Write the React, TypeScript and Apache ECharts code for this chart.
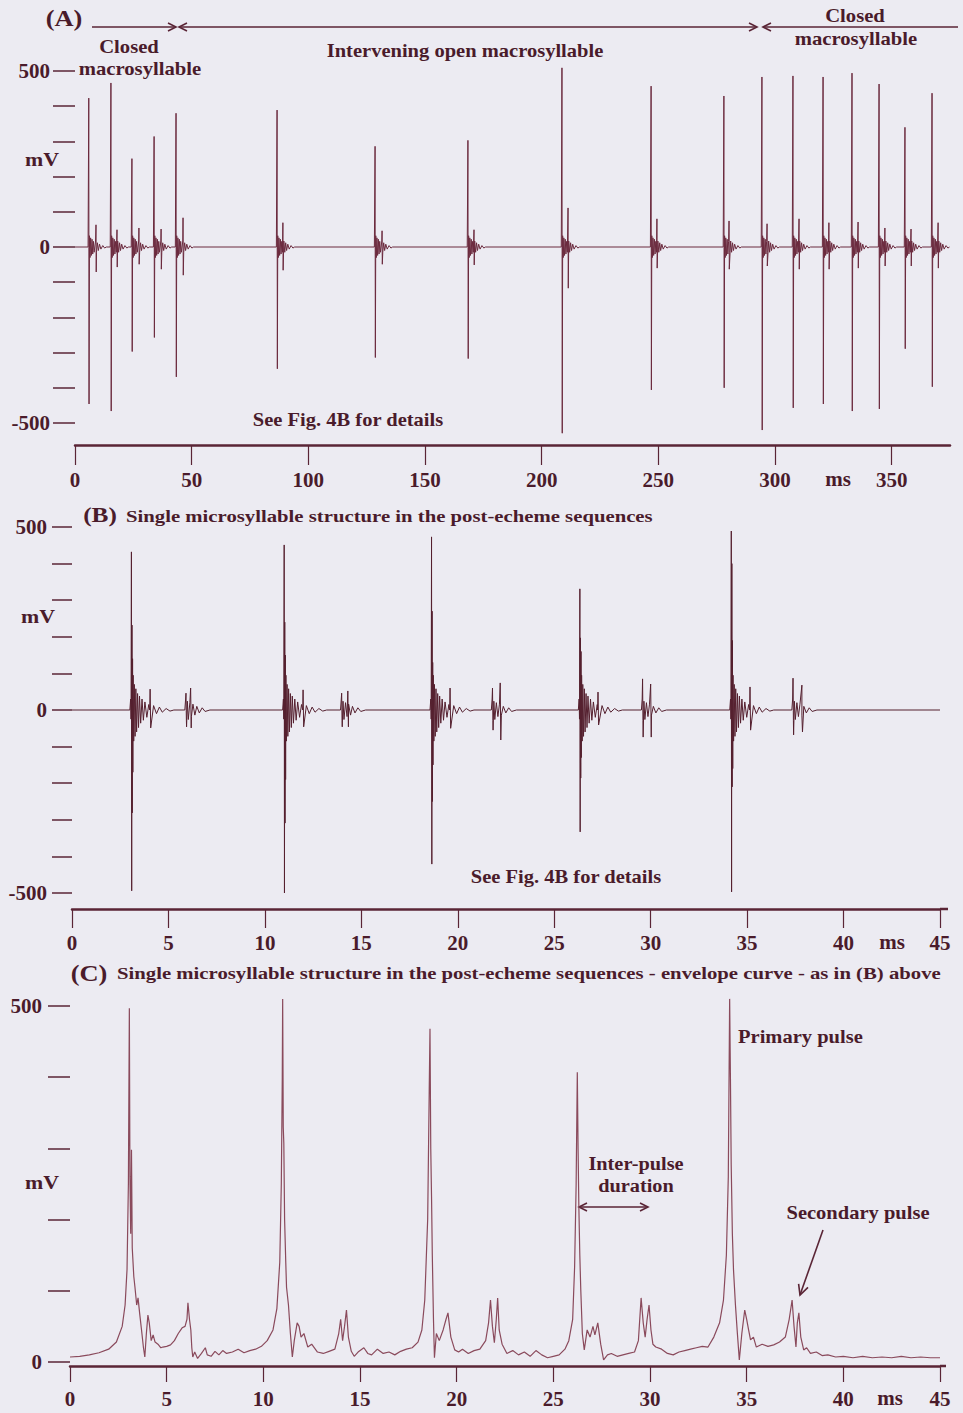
import React, { useEffect, useRef } from "react";
import * as echarts from "echarts";

// ---------- Panel A: primary / secondary pulses (ms, mV) ----------
const aPrimaryT = [5.9, 15.4, 24.4, 33.9, 43.3, 86.6, 128.6, 168.4, 208.7, 246.9, 278.1, 294.4, 307.7, 320.6, 333.0, 344.6, 355.7, 367.3];
const aPrimaryUp = [423, 466, 251, 314, 380, 389, 286, 303, 509, 457, 429, 483, 486, 483, 494, 463, 340, 437];
const aPrimaryDown = [446, 466, 297, 257, 369, 346, 314, 317, 529, 406, 400, 520, 457, 446, 466, 460, 289, 397];
const aSecondaryT = [9.0, 18.0, 27.4, 36.9, 46.3, 89.1, 131.6, 171.0, 211.3, 249.4, 280.3, 296.6, 310.3, 323.1, 335.6, 347.1, 358.3, 369.9];
const aSecondaryUp = [63, 49, 54, 51, 83, 69, 46, 49, 111, 80, 74, 66, 80, 69, 71, 54, 51, 69];
const aSecondaryDown = [71, 57, 49, 63, 80, 66, 49, 51, 117, 60, 63, 54, 63, 63, 60, 54, 54, 60];
const aRingOffsets = [0.3, 0.55, 0.8, 1.1, 1.4, 1.7, 2.0, 2.3, 2.9, 3.3, 3.7, 4.1, 4.6, 5.2, 6.0, 6.8];
const aRingValues = [32, -30, 26, -24, 22, -20, 16, -15, 17, -15, 12, -10, 8, -6, 4, -3];
const aTicks = [0, 50, 100, 150, 200, 250, 300, 350];

// ---------- Panel B ----------
const bPrimaryT = [3.08, 11.0, 18.64, 26.33, 34.18];
const bPrimaryUp = [432, 451, 473, 331, 489];
const bPrimaryDown = [494, 500, 421, 333, 497];
const bInnerUp = [232, 240, 270, 197, 400];
const bInnerDown = [281, 309, 250, 186, 210];
const bInner2Up = [140, 150, 130, 160, 190];
const bInner2Down = [170, 190, 150, 130, 160];
const bEchoT = [4.05, 11.98, 19.6, 27.27, 35.15];
const bEchoUp = [57, 55, 60, 49, 63];
const bEchoDown = [49, 46, 50, 41, 55];
const bSecondaryT = [5.91, 6.15, 13.98, 14.3, 21.8, 22.2, 29.58, 30.0, 37.38, 37.84];
const bSecondaryUp = [46, 60, 46, 52, 60, 74, 85, 71, 87, 68];
const bSecondaryDown = [46, 49, 46, 46, 55, 82, 74, 74, 68, 60];
const bBurstStartT = [5.85, 13.92, 21.74, 29.52, 37.32];
const bRingOffsets = [0.09, 0.12, 0.15, 0.19, 0.23, 0.27, 0.32, 0.37, 0.42, 0.48, 0.55, 0.62, 0.7, 0.8, 0.9, 1.15, 1.3, 1.45, 1.6, 1.8, 2.0];
const bRingValues = [95, -85, 70, -72, 58, -60, 45, -48, 38, -36, 30, -28, 22, -20, 15, 12, -10, 8, -6, 4, -3];
const sRingOffsets = [0.04, 0.08, 0.13, 0.18, 0.26, 0.34, 0.42, 0.52, 0.62, 0.75, 0.9, 1.05];
const sRingValues = [30, -28, 24, -26, 20, -18, 16, -14, 10, -8, 6, -4];
const msTicks = [0, 5, 10, 15, 20, 25, 30, 35, 40, 45];

// ---------- Panel C: envelope curve [ms, mV] ----------
const envelopeC: [number, number][] = [
  [0, 7], [0.5, 8], [1.0, 10], [1.5, 13], [2.0, 18], [2.4, 28], [2.7, 50], [2.85, 80], [2.95, 130], [3.02, 250], [3.07, 497],
  [3.1, 260], [3.14, 180], [3.18, 298], [3.22, 160], [3.3, 120], [3.36, 105], [3.45, 80], [3.52, 90], [3.6, 69], [3.7, 45],
  [3.8, 20], [3.87, 7], [3.95, 40], [4.03, 66], [4.1, 55], [4.2, 30], [4.3, 38], [4.4, 28], [4.55, 25], [4.7, 20], [4.8, 21],
  [5.0, 22], [5.2, 24], [5.4, 30], [5.6, 40], [5.8, 48], [5.95, 50], [6.05, 60], [6.1, 83], [6.18, 60], [6.25, 45], [6.3, 20],
  [6.35, 7], [6.45, 14], [6.6, 5], [6.8, 12], [7.0, 20], [7.1, 10], [7.3, 8], [7.5, 15], [7.7, 10], [7.9, 16], [8.1, 12],
  [8.4, 14], [8.7, 18], [9.0, 13], [9.3, 16], [9.6, 18], [9.9, 22], [10.2, 30], [10.5, 45], [10.7, 75], [10.85, 140],
  [10.93, 250], [10.98, 400], [11.0, 510], [11.03, 330], [11.06, 307], [11.1, 200], [11.16, 140], [11.2, 105], [11.3, 80],
  [11.4, 40], [11.5, 7], [11.6, 30], [11.75, 55], [11.85, 50], [11.95, 35], [12.1, 40], [12.3, 21], [12.5, 25], [12.8, 14],
  [13.1, 12], [13.4, 15], [13.7, 18], [13.9, 40], [14.0, 60], [14.1, 30], [14.2, 50], [14.3, 73], [14.4, 35], [14.55, 15],
  [14.7, 8], [14.9, 14], [15.2, 20], [15.4, 12], [15.6, 10], [15.9, 18], [16.2, 12], [16.5, 14], [16.8, 10], [17.1, 15],
  [17.4, 18], [17.7, 20], [18.0, 28], [18.2, 45], [18.35, 87], [18.5, 200], [18.58, 380], [18.62, 468], [18.66, 300],
  [18.7, 232], [18.74, 150], [18.8, 60], [18.85, 6], [18.95, 40], [19.1, 30], [19.3, 45], [19.45, 60], [19.55, 69], [19.7, 35],
  [19.9, 17], [20.1, 14], [20.3, 18], [20.6, 12], [20.9, 16], [21.2, 18], [21.5, 30], [21.65, 55], [21.75, 87], [21.85, 50],
  [21.95, 27], [22.05, 60], [22.12, 90], [22.2, 45], [22.35, 25], [22.6, 12], [22.9, 16], [23.2, 10], [23.5, 14], [23.8, 8],
  [24.1, 16], [24.4, 10], [24.7, 6], [25.0, 8], [25.3, 10], [25.6, 18], [25.8, 30], [26.0, 60], [26.1, 133], [26.18, 250],
  [26.24, 407], [26.28, 300], [26.32, 218], [26.37, 150], [26.42, 101], [26.5, 40], [26.6, 17], [26.75, 45], [26.9, 35],
  [27.05, 50], [27.15, 38], [27.3, 55], [27.45, 25], [27.6, 3], [27.8, 10], [28.0, 12], [28.3, 8], [28.6, 10], [28.9, 12],
  [29.2, 14], [29.4, 30], [29.54, 90], [29.65, 55], [29.75, 35], [29.85, 60], [29.95, 80], [30.05, 45], [30.15, 25],
  [30.3, 21], [30.6, 18], [30.9, 12], [31.2, 10], [31.5, 14], [31.8, 16], [32.1, 18], [32.4, 20], [32.7, 22], [33.0, 21],
  [33.3, 35], [33.6, 55], [33.8, 87], [33.95, 150], [34.05, 260], [34.12, 510], [34.16, 400], [34.2, 277], [34.26, 180],
  [34.32, 129], [34.42, 80], [34.52, 40], [34.62, 3], [34.75, 40], [34.9, 73], [35.0, 60], [35.1, 45], [35.2, 31], [35.35, 35],
  [35.5, 21], [35.8, 25], [36.1, 22], [36.4, 24], [36.7, 28], [37.0, 35], [37.2, 60], [37.35, 87], [37.45, 50], [37.55, 21],
  [37.62, 55], [37.7, 69], [37.8, 35], [37.95, 17], [38.1, 20], [38.3, 12], [38.6, 14], [38.9, 9], [39.2, 10], [39.6, 7],
  [40.0, 8], [40.5, 6], [41.0, 8], [41.5, 6], [42.0, 7], [42.5, 6], [43.0, 8], [43.5, 6], [44.0, 7], [44.5, 6], [45.0, 6],
];

const BG = "#ecebf2";
const TXT = "#4a1b2b";
const AX = "#5a2536";
const FONT = '"Liberation Serif", "Times New Roman", serif';

function buildA(): [number, number][] {
  const pts: [number, number][] = [[0, 0], [375, 0]];
  aPrimaryT.forEach((t, i) => {
    pts.push([t - 0.3, 0], [t, aPrimaryUp[i]], [t + 0.12, -aPrimaryDown[i]]);
    aRingOffsets.forEach((o, j) => pts.push([t + o, aRingValues[j]]));
    pts.push([t + 7.5, 0]);
  });
  aSecondaryT.forEach((t, i) => {
    pts.push([t, aSecondaryUp[i]], [t + 0.1, -aSecondaryDown[i]]);
  });
  return pts.sort((p, q) => p[0] - q[0]);
}

function buildB(): [number, number][] {
  const pts: [number, number][] = [[0, 0], [45, 0]];
  bPrimaryT.forEach((t, i) => {
    pts.push(
      [t - 0.08, 0], [t - 0.04, 30], [t - 0.02, -25],
      [t, bPrimaryUp[i]], [t + 0.015, -bPrimaryDown[i]],
      [t + 0.03, bInnerUp[i]], [t + 0.045, -bInnerDown[i]],
      [t + 0.06, bInner2Up[i]], [t + 0.075, -bInner2Down[i]]
    );
    bRingOffsets.forEach((o, j) => pts.push([t + o, bRingValues[j]]));
    pts.push([t + 2.2, 0]);
  });
  bEchoT.forEach((t, i) => pts.push([t - 0.02, 0], [t, bEchoUp[i]], [t + 0.03, -bEchoDown[i]]));
  bSecondaryT.forEach((t, i) => pts.push([t, bSecondaryUp[i]], [t + 0.03, -bSecondaryDown[i]]));
  bBurstStartT.forEach((t) => {
    pts.push([t, 0]);
    sRingOffsets.forEach((o, j) => pts.push([t + o, sRingValues[j]]));
    pts.push([t + 1.3, 0]);
  });
  return pts.sort((p, q) => p[0] - q[0]);
}

function txt(text: string, x: number, y: number, size: number, align = "center", sx = 1) {
  return {
    type: "text",
    x,
    y,
    scaleX: sx,
    style: {
      text,
      fill: TXT,
      font: `bold ${size}px ${FONT}`,
      textAlign: align,
      textVerticalAlign: "middle",
      align,
      verticalAlign: "middle",
    },
  };
}
function seg(x1: number, y1: number, x2: number, y2: number, w = 1.6) {
  return { type: "line", shape: { x1, y1, x2, y2 }, style: { stroke: AX, lineWidth: w } };
}
function head(points: number[][]) {
  return { type: "polyline", shape: { points }, style: { stroke: AX, fill: "none", lineWidth: 1.6 } };
}

function yAxisCfg(grid: number, min: number, max: number, tickLen: number, margin: number, labels: number[]) {
  return {
    gridIndex: grid,
    type: "value",
    min,
    max,
    interval: 100,
    axisLine: { show: false },
    axisTick: { show: true, length: tickLen, lineStyle: { color: AX, width: 1.5 } },
    axisLabel: {
      margin,
      customValues: labels,
      color: TXT,
      fontFamily: FONT,
      fontWeight: "bold",
      fontSize: 21,
    },
    splitLine: { show: false },
  };
}
function xAxisCfg(grid: number, max: number, interval: number, ticks: number[], offset: number, tickLen: number, margin: number) {
  return {
    gridIndex: grid,
    type: "value",
    min: 0,
    max,
    interval,
    offset,
    axisLine: { show: true, onZero: false, lineStyle: { color: AX, width: 2.5 } },
    axisTick: { show: true, length: tickLen, customValues: ticks, lineStyle: { color: AX, width: 1.2 } },
    axisLabel: {
      margin,
      customValues: ticks,
      color: TXT,
      fontFamily: FONT,
      fontWeight: "bold",
      fontSize: 21,
    },
    splitLine: { show: false },
  };
}

export default function App() {
  const ref = useRef<HTMLDivElement>(null);
  useEffect(() => {
    if (!ref.current) return;
    const chart = echarts.init(ref.current, null, { renderer: "svg" });
    const option: any = {
      animation: false,
      backgroundColor: BG,
      grid: [
        { left: 75, top: 71, width: 875, height: 352 },
        { left: 72, top: 527, width: 868, height: 366 },
        { left: 70, top: 1006, width: 870, height: 356 },
      ],
      xAxis: [
        xAxisCfg(0, 375, 50, aTicks, 22, 20, 24),
        xAxisCfg(1, 45, 5, msTicks, 16, 19, 23),
        xAxisCfg(2, 45, 5, msTicks, 4, 16, 22),
      ],
      yAxis: [
        yAxisCfg(0, -500, 500, 22, 25, [-500, 0, 500]),
        yAxisCfg(1, -500, 500, 20, 25, [-500, 0, 500]),
        yAxisCfg(2, 0, 500, 22, 28, [0, 500]),
      ],
      series: [
        {
          type: "line", xAxisIndex: 0, yAxisIndex: 0, data: buildA(), showSymbol: false, symbol: "none",
          lineStyle: { color: "#6b2a3e", width: 1 }, clip: false, silent: true,
        },
        {
          type: "line", xAxisIndex: 1, yAxisIndex: 1, data: buildB(), showSymbol: false, symbol: "none",
          lineStyle: { color: "#55202f", width: 1 }, clip: false, silent: true,
        },
        {
          type: "line", xAxisIndex: 2, yAxisIndex: 2, data: envelopeC, showSymbol: false, symbol: "none",
          lineStyle: { color: "#8a4a5c", width: 1.2 }, clip: false, silent: true,
        },
      ],
      graphic: [
        // Panel A
        txt("(A)", 64, 18, 23, "center", 1.15),
        seg(92, 27, 176, 27), head([[168, 23], [176, 27], [168, 31]]),
        seg(179, 27, 757, 27), head([[187, 23], [179, 27], [187, 31]]), head([[749, 23], [757, 27], [749, 31]]),
        seg(763, 27, 958, 27), head([[771, 23], [763, 27], [771, 31]]),
        txt("Closed", 129, 47, 18, "center", 1.15),
        txt("macrosyllable", 140, 69, 18, "center", 1.15),
        txt("Intervening open macrosyllable", 465, 51, 18, "center", 1.14),
        txt("Closed", 855, 16, 18, "center", 1.15),
        txt("macrosyllable", 856, 39, 18, "center", 1.15),
        txt("mV", 42, 160, 19, "center", 1.15),
        txt("See Fig. 4B for details", 348, 420, 18, "center", 1.14),
        txt("ms", 838, 479, 21),
        // Panel B
        txt("(B)", 100, 515, 22, "center", 1.15),
        txt("Single microsyllable structure in the post-echeme sequences", 126, 516, 17, "left", 1.22),
        txt("mV", 38, 617, 19, "center", 1.15),
        txt("See Fig. 4B for details", 566, 877, 18, "center", 1.14),
        txt("ms", 892, 942, 21),
        // Panel C
        txt("(C)", 89, 973, 23, "center", 1.15),
        txt("Single microsyllable structure in the post-echeme sequences - envelope curve - as in (B) above", 117, 973, 17, "left", 1.22),
        txt("mV", 42, 1183, 19, "center", 1.15),
        txt("Primary pulse", 738, 1037, 18, "left", 1.14),
        txt("Inter-pulse", 636, 1164, 18, "center", 1.13),
        txt("duration", 636, 1186, 18, "center", 1.13),
        seg(579, 1207, 648, 1207),
        head([[587, 1203], [579, 1207], [587, 1211]]),
        head([[640, 1203], [648, 1207], [640, 1211]]),
        txt("Secondary pulse", 858, 1213, 18, "center", 1.14),
        seg(823, 1230, 800, 1295),
        head([[808.0, 1287.3], [800, 1295], [798.6, 1283.9]]),
        txt("ms", 890, 1398, 21),
        // axis line extensions
        seg(940, 909, 948, 909, 2.5),
        seg(940, 1366, 946, 1366, 2.5),
      ],
    };
    chart.setOption(option);
    return () => chart.dispose();
  }, []);
  return <div ref={ref} style={{ position: "absolute", left: 0, top: 0, width: 963, height: 1413 }} />;
}
